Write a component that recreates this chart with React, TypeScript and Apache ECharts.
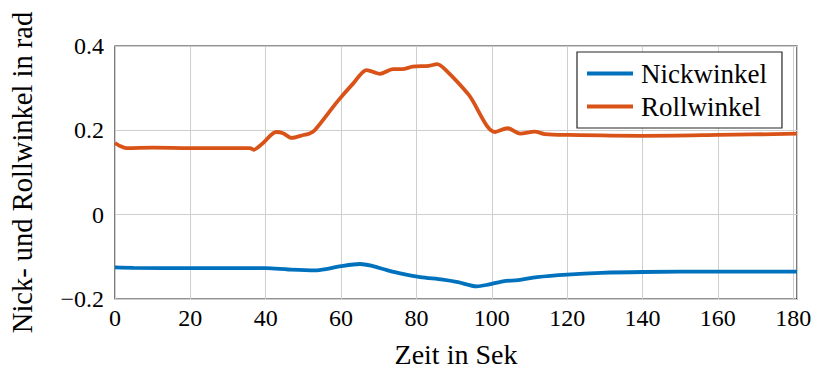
import React, { useEffect, useRef } from "react";
import * as echarts from "echarts";

const nickwinkel: [number, number][] = [
  [0, -0.125], [5, -0.126], [20, -0.127], [40, -0.127], [46, -0.130], [53, -0.132],
  [56, -0.129], [60, -0.122], [65, -0.117], [68, -0.121], [72, -0.131], [76, -0.140],
  [81, -0.148], [87, -0.154], [91, -0.160], [96, -0.170], [99, -0.166], [103, -0.158],
  [107, -0.155], [112, -0.148], [120, -0.142], [129, -0.138], [140, -0.136], [160, -0.135],
  [181, -0.135],
];

const rollwinkel: [number, number][] = [
  [0, 0.170], [1.5, 0.162], [3, 0.158], [10, 0.159], [20, 0.158], [30, 0.158],
  [35.8, 0.158], [36.8, 0.154], [39.3, 0.170], [42.8, 0.196], [44.6, 0.193], [46.9, 0.182],
  [50, 0.189], [51.5, 0.192], [53, 0.200], [59, 0.268], [63.3, 0.312], [66.8, 0.343],
  [70.3, 0.334], [73.8, 0.345], [76.2, 0.345], [79, 0.351], [83.3, 0.353], [85.5, 0.357],
  [87.8, 0.343], [93.9, 0.284], [100.9, 0.196], [104.2, 0.205], [107.5, 0.192],
  [111.4, 0.197], [114.1, 0.191], [120.3, 0.189], [140, 0.187], [160, 0.189], [181, 0.192],
];

const seriesNames = ["Nickwinkel", "Rollwinkel"];
const xTitle = "Zeit in Sek";
const yTitle = "Nick- und Rollwinkel in rad";

export default function App() {
  const ref = useRef<HTMLDivElement>(null);
  useEffect(() => {
    document.body.style.margin = "0";
    const chart = echarts.init(ref.current!, null, { renderer: "svg" });
    const font = "Liberation Serif";
    chart.setOption({
      animation: false,
      textStyle: { fontFamily: font },
      grid: {
        left: 111, right: 25, top: 46, bottom: 74,
        show: true, borderColor: "#262626", borderWidth: 1.2, backgroundColor: "#fff",
      },
      legend: {
        left: 577, top: 52,
        orient: "vertical",
        data: seriesNames,
        icon: "rect",
        itemWidth: 46, itemHeight: 4,
        itemGap: 6,
        padding: [8, 15, 8, 10],
        borderColor: "#262626", borderWidth: 1.2,
        backgroundColor: "#fff",
        textStyle: { fontFamily: font, fontSize: 27, color: "#000", lineHeight: 27, padding: [0, 0, 0, 3] },
      },
      xAxis: {
        type: "value", min: 0, max: 181, interval: 20,
        name: xTitle, nameLocation: "middle", nameGap: 41,
        nameTextStyle: { fontFamily: font, fontSize: 28, color: "#000" },
        axisLine: { show: false },
        axisTick: { show: false },
        axisLabel: {
          fontFamily: font, fontSize: 24, color: "#000", margin: 7, showMaxLabel: false,
          formatter: (v: number) => (v % 20 === 0 ? String(v) : ""),
        },
        splitLine: { show: true, lineStyle: { color: "#cfcfcf", width: 1 } },
      },
      yAxis: {
        type: "value", min: -0.2, max: 0.4, interval: 0.2,
        name: yTitle, nameLocation: "middle", nameGap: 78, nameRotate: 90,
        nameTextStyle: { fontFamily: font, fontSize: 28.5, color: "#000" },
        axisLine: { show: false },
        axisTick: { show: false },
        axisLabel: {
          fontFamily: font, fontSize: 24, color: "#000", margin: 11,
          formatter: (v: number) => {
            const r = Math.round(v * 10) / 10;
            if (r === 0) return "0";
            return r < 0 ? "\u2212" + Math.abs(r).toFixed(1) : r.toFixed(1);
          },
        },
        splitLine: { show: true, lineStyle: { color: "#cfcfcf", width: 1 } },
      },
      series: [
        {
          name: seriesNames[0], type: "line", data: nickwinkel, showSymbol: false, symbol: "none",
          smooth: 0.3, lineStyle: { color: "#0072BD", width: 3.8 }, itemStyle: { color: "#0072BD" },
        },
        {
          name: seriesNames[1], type: "line", data: rollwinkel, showSymbol: false, symbol: "none",
          smooth: 0.3, lineStyle: { color: "#D95319", width: 3.8 }, itemStyle: { color: "#D95319" },
        },
      ],
    });
    return () => chart.dispose();
  }, []);
  return <div ref={ref} style={{ width: 822, height: 373 }} />;
}
